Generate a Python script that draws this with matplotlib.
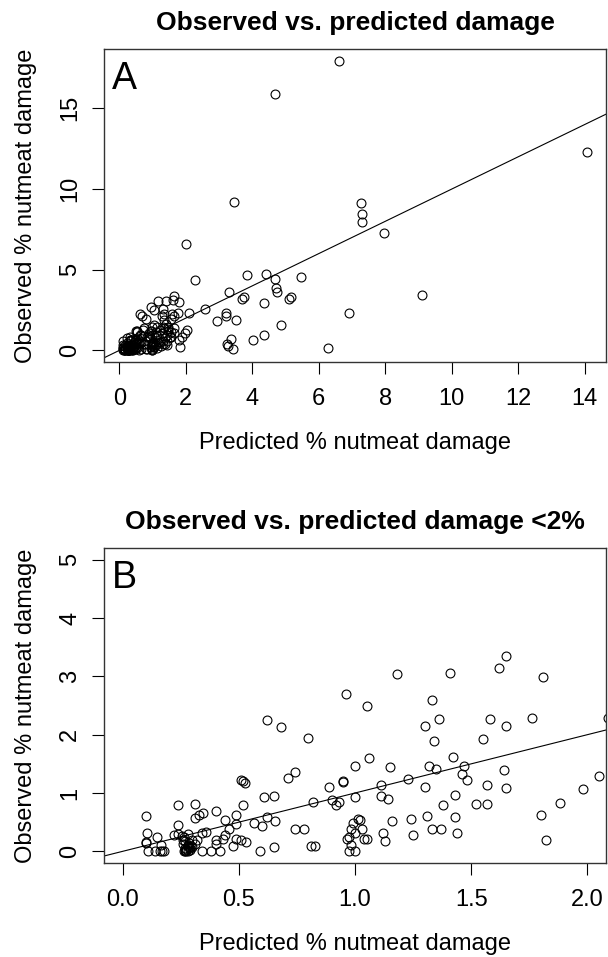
import matplotlib
matplotlib.use("Agg")
import matplotlib.pyplot as plt
import numpy as np

plt.rcParams['font.family'] = ['Liberation Sans', 'DejaVu Sans']

# points with predicted damage below ~2 % (shown in both panels)
pred_low = [
    0.96, 1.05, 1.33, 1.18, 1.41, 1.62, 1.65, 1.81, 0.62, 0.68,
    0.80, 1.30, 1.36, 1.58, 1.65, 1.76, 2.09, 1.34, 1.55, 1.42,
    1.06, 1.00, 1.15, 0.74, 0.71, 0.95, 0.95, 0.89, 1.11, 1.23,
    1.30, 1.32, 1.35, 1.47, 1.46, 1.48, 1.64, 1.57, 1.65, 2.05,
    1.98, 1.43, 1.38, 1.52, 1.57, 1.88, 1.31, 1.43, 1.33, 1.37,
    1.44, 1.80, 1.82, 1.24, 1.25, 1.16, 1.12, 1.13, 1.11, 1.14,
    1.00, 0.65, 0.61, 0.82, 0.90, 0.93, 0.92, 0.51, 0.52, 0.525,
    0.24, 0.31, 0.10, 0.40, 0.33, 0.345, 0.31, 0.52, 0.49, 0.44,
    0.24, 0.49, 0.565, 0.60, 0.46, 0.62, 0.655, 0.74, 0.78, 1.02,
    1.015, 0.99, 0.985, 1.03, 1.00, 0.965, 0.975, 1.04, 1.05, 0.985,
    0.975, 1.00, 0.81, 0.83, 0.65, 0.59, 0.105, 0.15, 0.22, 0.24,
    0.255, 0.265, 0.28, 0.34, 0.36, 0.44, 0.40, 0.40, 0.43, 0.49,
    0.51, 0.53, 0.475, 0.10, 0.10, 0.167, 0.11, 0.14, 0.16, 0.17,
    0.18, 0.27, 0.27, 0.27, 0.28, 0.28, 0.285, 0.27, 0.26, 0.29,
    0.28, 0.265, 0.30, 0.32, 0.34, 0.38, 0.42, 0.29, 0.30, 0.31,
    0.275, 0.285, 0.295, 0.26, 0.275,
]
obs_low = [
    2.70, 2.49, 2.59, 3.04, 3.06, 3.15, 3.35, 2.99, 2.25, 2.14,
    1.94, 2.15, 2.27, 2.27, 2.15, 2.29, 2.29, 1.89, 1.92, 1.62,
    1.60, 1.46, 1.44, 1.36, 1.25, 1.19, 1.20, 1.10, 1.14, 1.24,
    1.10, 1.46, 1.42, 1.46, 1.32, 1.22, 1.39, 1.14, 1.09, 1.29,
    1.07, 0.965, 0.79, 0.81, 0.81, 0.83, 0.60, 0.59, 0.38, 0.38,
    0.31, 0.63, 0.19, 0.55, 0.28, 0.52, 0.31, 0.18, 0.95, 0.89,
    0.93, 0.95, 0.93, 0.85, 0.88, 0.84, 0.80, 1.23, 1.20, 1.17,
    0.79, 0.81, 0.61, 0.70, 0.62, 0.65, 0.57, 0.79, 0.62, 0.53,
    0.45, 0.47, 0.49, 0.44, 0.38, 0.59, 0.525, 0.38, 0.38, 0.54,
    0.55, 0.49, 0.39, 0.39, 0.32, 0.22, 0.25, 0.21, 0.21, 0.11,
    0.00, 0.00, 0.10, 0.10, 0.07, 0.00, 0.31, 0.25, 0.28, 0.29,
    0.26, 0.25, 0.30, 0.31, 0.34, 0.28, 0.19, 0.125, 0.22, 0.22,
    0.20, 0.165, 0.09, 0.165, 0.15, 0.11, 0.00, 0.00, 0.00, 0.00,
    0.00, 0.00, 0.03, 0.06, 0.09, 0.11, 0.14, 0.17, 0.20, 0.02,
    0.00, 0.00, 0.19, 0.20, 0.00, 0.00, 0.00, 0.05, 0.08, 0.12,
    0.04, 0.07, 0.10, 0.13, 0.01,
]

# points with larger predicted or observed damage (panel A only)
pred_high = [
    2.01, 2.27, 2.58, 2.93, 3.20, 3.22, 3.30, 3.45, 3.52, 3.70,
    3.74, 3.84, 4.35, 4.40, 4.69, 4.70, 4.75, 4.68, 4.85, 5.12,
    5.17, 5.47, 6.28, 6.61, 6.90, 7.26, 7.29, 7.29, 7.97, 9.10,
    14.08, 3.36, 4.03, 4.34, 3.25, 3.28, 3.42,
]
obs_high = [
    6.62, 4.38, 2.57, 1.85, 2.32, 2.12, 3.64, 9.21, 1.86, 3.20,
    3.30, 4.70, 2.96, 4.74, 4.45, 3.85, 3.64, 15.90, 1.56, 3.20,
    3.30, 4.58, 0.15, 17.96, 2.30, 9.11, 8.47, 7.98, 7.30, 3.46,
    12.31, 0.73, 0.64, 0.98, 0.42, 0.27, 0.08,
]

predicted = np.array(pred_low + pred_high)
observed = np.array(obs_low + obs_high)


def pad(lo, hi):
    r = hi - lo
    return lo - 0.04 * r, hi + 0.04 * r


def draw(ax, title, letter, xlim, ylim, xticks, yticks, xfmt):
    ax.plot(predicted, observed, 'o', ms=6.4, mfc='none', mec='black', mew=0.8)
    ax.axline((0, 0), slope=1, color='black', lw=0.8)
    ax.set_xlim(xlim)
    ax.set_ylim(ylim)
    ax.set_xticks(xticks)
    ax.set_xticklabels([xfmt.format(v) for v in xticks])
    ax.set_yticks(yticks)
    ax.set_yticklabels([str(v) for v in yticks], rotation=90, va='center')
    ax.tick_params(direction='out', length=8.5, width=0.8, labelsize=17)
    ax.tick_params(axis='x', pad=10)
    ax.tick_params(axis='y', pad=8)
    for s in ax.spines.values():
        s.set_linewidth(1.0)
        s.set_color('#333333')
    ax.set_title(title, fontsize=19, fontweight='bold', pad=14)
    ax.set_xlabel('Predicted % nutmeat damage', fontsize=17, labelpad=16)
    ax.set_ylabel('Observed % nutmeat damage', fontsize=17, labelpad=16)
    ax.text(0.016, 0.962, letter, transform=ax.transAxes, ha='left', va='top', fontsize=27)


fig = plt.figure(figsize=(6.08, 9.57), dpi=100)
ax1 = fig.add_axes([0.171, 0.6217, 0.8257, 0.3271])
ax2 = fig.add_axes([0.171, 0.0982, 0.8257, 0.3292])

draw(ax1, 'Observed vs. predicted damage', 'A',
     pad(predicted.min(), predicted.max()), pad(0, observed.max()),
     list(range(0, 15, 2)), [0, 5, 10, 15], '{:d}')
draw(ax2, 'Observed vs. predicted damage <2%', 'B',
     pad(0, 2), pad(0, 5),
     [0.0, 0.5, 1.0, 1.5, 2.0], [0, 1, 2, 3, 4, 5], '{:.1f}')

fig.savefig('out.png', dpi=100)
